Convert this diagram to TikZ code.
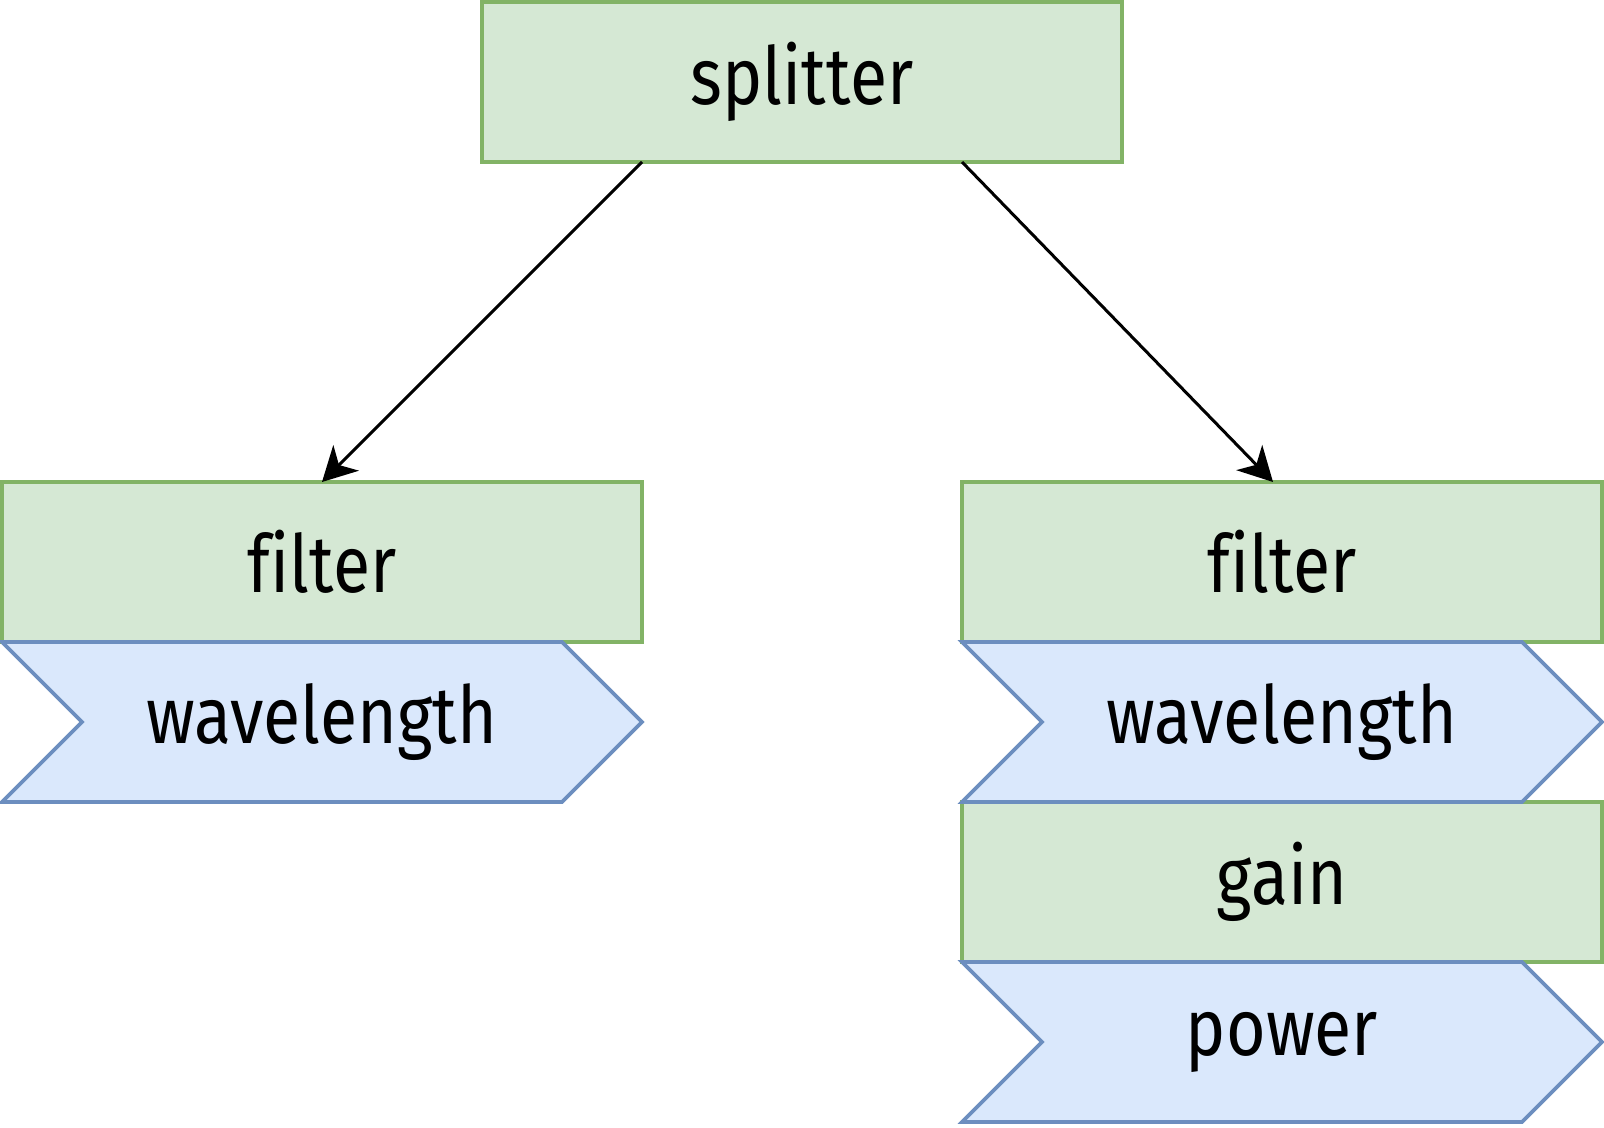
\documentclass[tikz,border=0pt]{standalone}
\usepackage{fontspec}
\setmainfont[FakeStretch=0.85,Ligatures=NoCommon]{Fira Sans}
\usepackage{tikz}
\usetikzlibrary{arrows.meta,shapes.symbols,positioning}
\definecolor{boxfill}{HTML}{D5E8D4}
\definecolor{boxline}{HTML}{82B366}
\definecolor{sigfill}{HTML}{DAE8FC}
\definecolor{sigline}{HTML}{6C8EBF}

\begin{document}
\begin{tikzpicture}[x=0.5pt,y=-0.5pt]
                    \tikzstyle{every node}+=[inner sep=0pt,outer sep=0pt,font=\fontsize{40}{48}\selectfont]
                    \tikzstyle{block}=[rectangle,draw=boxline,fill=boxfill,line width=1.8pt,minimum width=320pt,minimum height=80pt]
                    \tikzstyle{param}=[signal,signal from=west,signal to=east,signal pointer angle=90,draw=sigline,fill=sigfill,line width=1.8pt,minimum width=320pt,minimum height=80pt]
                    \tikzstyle{link}=[black,line width=1.5pt,-{Stealth[length=17pt,width=18pt,inset=5pt]}]
                    \useasboundingbox (0,0) rectangle (1604,1128);
                    % top
                    \node [block] (splitter) at (802,82) {splitter};
                    % left branch
                    \node [block] (lfilter) at (322,562) {filter};
                    \node [param,below=0pt of lfilter] (lwave) {wavelength};
                    % right branch
                    \node [block] (rfilter) at (1282,562) {filter};
                    \node [block,below=80pt of rfilter] (gain) {gain};
                    \node [param,below=0pt of rfilter] (rwave) {wavelength};
                    \node [param,below=0pt of gain] (power) {power};
                    % arrows
                    \draw [link] ([xshift=-80pt]splitter.south) -- (lfilter.north);
                    \draw [link] ([xshift=80pt]splitter.south) -- ([xshift=-4.5pt]rfilter.north);
\end{tikzpicture}
\end{document}
